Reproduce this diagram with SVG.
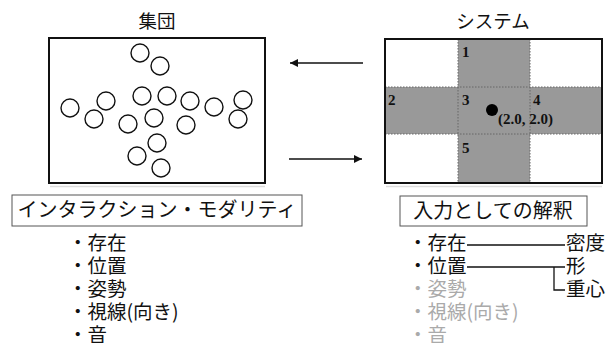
<svg xmlns="http://www.w3.org/2000/svg" width="614" height="343" viewBox="0 0 614 343">
<defs>
<style>
.jp{font-family:"Noto Sans CJK JP","Noto Sans",sans-serif;font-size:19.5px;fill:#111}
.ttl{font-family:"Noto Sans CJK JP",sans-serif;font-size:18.5px;fill:#111;text-anchor:middle}
.num{font-family:"Liberation Serif",serif;font-weight:bold;font-size:15px;fill:#111}
.frame{fill:none;stroke:#111;stroke-width:2}
.p{fill:#fff;stroke:#111;stroke-width:1.4}
.grid{stroke:#666;stroke-width:1;stroke-dasharray:1.5 1.5;fill:none}
.lbl{fill:#fff;stroke:#555;stroke-width:1}
.dim{fill:#aaa}
.conn{stroke:#111;stroke-width:1.3;fill:none}
.shadow{stroke:#ddd;stroke-width:1.5}
</style>
<marker id="ah" viewBox="0 0 10 10" refX="10" refY="5" markerWidth="8" markerHeight="8" markerUnits="userSpaceOnUse" orient="auto">
<path d="M0,0 L10,5 L0,10 z" fill="#111"/>
</marker>
</defs>
<rect width="614" height="343" fill="#fff"/>

<g id="group-node">
<text class="ttl" x="157" y="28">集団</text>
<line class="shadow" x1="50" y1="186.5" x2="265" y2="186.5"/>
<rect class="frame" x="49" y="38" width="216" height="145"/>
<circle class="p" cx="140" cy="53" r="9"/>
<circle class="p" cx="160" cy="66" r="9"/>
<circle class="p" cx="70" cy="108" r="9"/>
<circle class="p" cx="106" cy="101" r="9"/>
<circle class="p" cx="94" cy="119" r="9"/>
<circle class="p" cx="142" cy="96" r="9"/>
<circle class="p" cx="167" cy="96" r="9"/>
<circle class="p" cx="190" cy="101" r="9"/>
<circle class="p" cx="214" cy="107" r="9"/>
<circle class="p" cx="243" cy="100" r="9"/>
<circle class="p" cx="238" cy="119" r="9"/>
<circle class="p" cx="128" cy="124" r="9"/>
<circle class="p" cx="154" cy="118" r="9"/>
<circle class="p" cx="186" cy="125" r="9"/>
<circle class="p" cx="157" cy="143" r="9"/>
<circle class="p" cx="137" cy="156" r="9"/>
<circle class="p" cx="161" cy="168" r="9"/>
</g>

<g id="system-node">
<text class="ttl" x="493" y="28">システム</text>
<line class="shadow" x1="386" y1="186.5" x2="602" y2="186.5"/>
<rect x="385" y="39" width="217" height="144" fill="#fff"/>
<rect x="458" y="39" width="72" height="144" fill="#999"/>
<rect x="385" y="87" width="217" height="47" fill="#999"/>
<line class="grid" x1="458" y1="39" x2="458" y2="183"/>
<line class="grid" x1="530" y1="39" x2="530" y2="183"/>
<line class="grid" x1="385" y1="87" x2="602" y2="87"/>
<line class="grid" x1="385" y1="134" x2="602" y2="134"/>
<rect class="frame" x="385" y="39" width="217" height="144"/>
<text class="num" x="462" y="57">1</text>
<text class="num" x="388" y="105">2</text>
<text class="num" x="462" y="105">3</text>
<text class="num" x="533" y="105">4</text>
<text class="num" x="462" y="153">5</text>
<circle cx="492" cy="110" r="6" fill="#000"/>
<text class="num" x="498" y="124">(2.0, 2.0)</text>
</g>

<g id="connectors">
<line class="conn" x1="363" y1="63" x2="290" y2="63" marker-end="url(#ah)"/>
<line class="conn" x1="289" y1="159" x2="362" y2="159" marker-end="url(#ah)"/>
<polyline class="conn" points="467,245 565,245"/>
<polyline class="conn" points="467,267 565,267"/>
<polyline class="conn" points="554,267 554,290 565,290"/>
</g>

<g id="modality-node">
<rect class="lbl" x="12" y="195" width="290" height="31"/>
<text class="jp" x="157" y="217" text-anchor="middle" style="font-size:20px">インタラクション・モダリティ</text>
<text class="jp" x="68" y="250">・存在</text>
<text class="jp" x="68" y="273">・位置</text>
<text class="jp" x="68" y="296">・姿勢</text>
<text class="jp" x="68" y="319">・視線(向き)</text>
<text class="jp" x="68" y="342">・音</text>
</g>

<g id="interpretation-node">
<rect class="lbl" x="400" y="196" width="187" height="30"/>
<text class="jp" x="493" y="218" text-anchor="middle" style="font-size:20px">入力としての解釈</text>
<text class="jp" x="408" y="250">・存在</text>
<text class="jp" x="408" y="273">・位置</text>
<text class="jp dim" x="408" y="296">・姿勢</text>
<text class="jp dim" x="408" y="319">・視線(向き)</text>
<text class="jp dim" x="408" y="342">・音</text>
<text class="jp" x="566" y="250">密度</text>
<text class="jp" x="566" y="273">形</text>
<text class="jp" x="566" y="296">重心</text>
</g>
</svg>
